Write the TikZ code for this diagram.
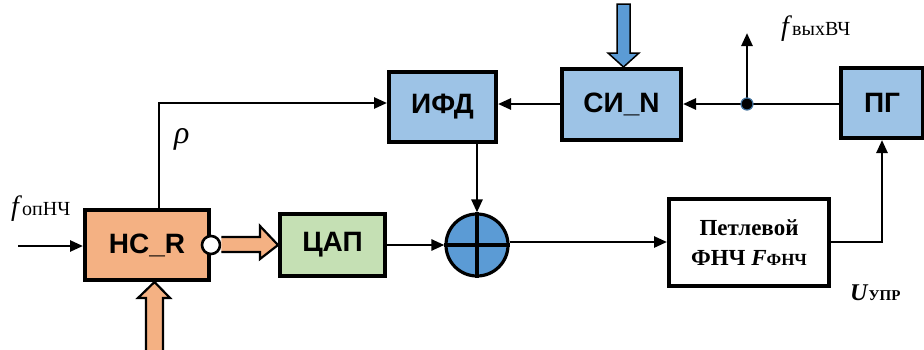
\documentclass[tikz,border=0pt]{standalone}
\usepackage{fontspec}
\setmainfont{Liberation Serif}
\newfontfamily\blkfont{Liberation Sans}
\usetikzlibrary{arrows.meta}
\definecolor{orfill}{HTML}{F4B183}
\definecolor{grfill}{HTML}{C5E0B4}
\definecolor{blfill}{HTML}{9DC3E6}
\definecolor{bldark}{HTML}{5B9BD5}
\definecolor{dotedge}{HTML}{41719C}
\tikzset{
  blockbox/.style={draw=black, line width=4pt, inner sep=0pt, font=\blkfont\bfseries\fontsize{28}{28}\selectfont},
  conn/.style={line width=2.6pt},
  arr/.style={line width=2.6pt, -{Triangle[length=13pt,width=11pt]}},
  hollowarr/.style={draw=black, line width=2.2pt, fill=orfill, line join=miter},
}
\begin{document}
\begin{tikzpicture}[x=1pt,y=-1pt]
\useasboundingbox (0,0) rectangle (924,349);
% blocks
\node[blockbox, fill=orfill, minimum width=124pt, minimum height=70pt] (hcr) at (147,245) {HC\_R};
\node[blockbox, fill=grfill, minimum width=105pt, minimum height=62pt] (dac) at (332.5,245) {ЦАП};
\node[blockbox, fill=blfill, minimum width=107pt, minimum height=70pt] (ifd) at (442.5,106.5) {ИФД};
\node[blockbox, fill=blfill, minimum width=119pt, minimum height=71pt] (sin) at (621.5,104.5) {СИ\_N};
\node[blockbox, fill=blfill, minimum width=82pt, minimum height=70pt] (pg) at (882,103) {ПГ};
\node[blockbox, fill=white, minimum width=160pt, minimum height=87pt, align=center,
      font=\bfseries\fontsize{23}{30}\selectfont] (lpf) at (749,242.5)
      {Петлевой\\ФНЧ \textit{F}{\fontsize{17}{17}\selectfont ФНЧ}};
\node[draw=black, line width=3.2pt, fill=bldark, circle, minimum size=62pt, inner sep=0pt] (sum) at (477,245) {};
\draw[line width=3.2pt] (sum.north) -- (sum.south) (sum.west) -- (sum.east);
% inversion circle
\node[draw=black, line width=2.6pt, fill=white, circle, minimum size=18pt, inner sep=0pt] (inv) at (hcr.east) {};
% hollow arrows
\coordinate (ha1t) at (dac.west);
\draw[hollowarr] (inv.east |- 0,237) -- (260,237) -- (260,226) -- (ha1t) -- (260,259) -- (260,252) -- (inv.east |- 0,252);
\coordinate (hb) at (154.5,348);
\draw[hollowarr] (146,351) -- (146,298) -- (138,298) -- (hcr.south -| hb) -- (170,298) -- (163,298) -- (163,351);
\coordinate (bt) at (623.5,4);
\draw[draw=black, line width=1.5pt, fill=bldark] (617,4) -- (617,53) -- (608,53) -- (sin.north -| bt) -- (639,53) -- (630,53) -- (630,4) -- cycle;
% input
\coordinate (fin) at (18,246);
\draw[arr] (fin) -- (fin -| hcr.west);
\node[anchor=base west, inner sep=0pt] (flab) at (11,215) {\fontsize{28}{28}\selectfont\itshape f\/\normalfont\fontsize{20}{20}\selectfont опНЧ};
% rho path
\coordinate (rho) at (159,103);
\draw[arr] (hcr.north -| rho) -- (rho) -- (rho -| ifd.west);
\node[anchor=base west, inner sep=0pt] (rholab) at (174,143) {\fontsize{32}{32}\selectfont\itshape ρ};
% top line
\coordinate (tap) at (747,104);
\draw[conn] (pg.west |- tap) -- (tap);
\draw[arr] (tap) -- (tap -| sin.east);
\draw[arr] (sin.west |- tap) -- (tap -| ifd.east);
\coordinate (fout) at (747,33);
\draw[arr] (tap) -- (fout);
\node[draw=dotedge, line width=1.2pt, fill=black, circle, minimum size=12pt, inner sep=0pt] (dot) at (tap) {};
\node[anchor=base west, inner sep=0pt] (foutlab) at (781,35) {\fontsize{28}{28}\selectfont\itshape f\/\normalfont\fontsize{20}{20}\selectfont выхВЧ};
% ifd to sum
\draw[arr] (ifd.south -| sum) -- (sum.north);
\draw[arr] (dac.east) -- (sum.west);
\coordinate (sl) at (509,242);
\draw[arr] (sum.east |- sl) -- (sl -| lpf.west);
\coordinate (corner) at (882,242);
\draw[arr] (lpf.east |- corner) -- (corner) -- (pg.south);
\node[anchor=base west, inner sep=0pt] (ulab) at (850,300) {\bfseries\fontsize{24}{24}\selectfont\itshape U\/\normalfont\bfseries\fontsize{15}{15}\selectfont УПР};
\end{tikzpicture}
\end{document}
